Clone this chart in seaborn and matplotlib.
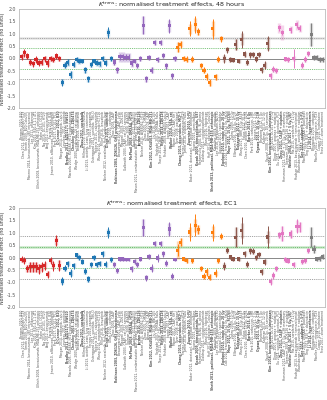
import numpy as np
import pandas as pd
import seaborn as sns
import matplotlib.pyplot as plt

# ---- data ----
group_names = ["anti-VEGF", "VEGFR TKI", "VDA", "chemo", "radiation", "combination", "other"]
group_sizes = [14, 18, 22, 16, 16, 14, 5]
group_colors = ["#d62728", "#1f77b4", "#9467bd", "#ff7f0e", "#8c564b", "#e377c2", "#7f7f7f"]

labels = [
    "Bergers 2010, B20", "Chen 2012, bevacizumab HT29", "Smith 2009, B20 Colo205",
    "Moreno 2014, bevacizumab, U87 intracranial", "Lee 2011, aflibercept", "Kim 2015, B20-4.1.1 4T1",
    "Ullrich 2008, bevacizumab, MDA-MB-231 orthotopic", "Hahn 2013, DC101", "Ng 2016, DC101, HT29",
    "Yang 2012, bevacizumab", "Ferretti 2011, B20", "Jensen 2010, aflibercept, Calu-6 xenograft",
    "Park 2017, DC101, PC3", "O'Connor 2012, B20",
    "Morgan 2014, cediranib, Calu-6", "Loveless 2012, sunitinib", "Bradley 2011, AZD2171 SW620",
    "Marzola 2005, SU6668, HT29 subcutaneous", "Checkley 2003, ZD6474", "Wedge 2005, cediranib, C6 rat glioma",
    "Bradley 2008, vandetanib", "Zhou 2012, sorafenib", "Hillman 2009, sunitinib RENCA",
    "Li 2013, axitinib, Lewis lung carcinoma", "Ferrara 2010, pazopanib", "Ostergaard 2011, sunitinib, 786-O",
    "Roberts 2015, cabozantinib", "Wang 2014, regorafenib HCT116", "Miller 2016, lenvatinib",
    "Nielsen 2012, sorafenib, Huh7 orthotopic liver", "Dings 2013, sunitinib", "Ullah 2010, cediranib",
    "Zhao 2008, CA4P", "Robinson 2003, ZD6126, GH3 prolactinoma",
    "Beauregard 2001, CA4P, LoVo", "Maxwell 2009, ZD6126", "Galbraith 2003, CA4P, rat P22 sarcoma",
    "Salmon 2006, ASA404", "McPhail 2008, DMXAA, HT29", "Bradley 2012, OXi4503",
    "Mason 2011, combretastatin A4P, breast 13762NF rat",
    "Jordan 2010, ZD6126", "Nielsen 2015, AVE8062, HT29", "Zhao 2005, DMXAA",
    "Ahmed 2008, CA4P", "Kim 2012, OXi4503, MDA-MB-231", "Liu 2016, BNC105",
    "Seshadri 2007, DMXAA, FaDu", "Thorpe 2013, CA4P, C3H mammary", "Reyes 2014, ZD6126",
    "Fishbein 2009, ASA404 Calu-6", "Joseph 2011, CA4P", "Walker 2010, VEA, rat",
    "Moore 2012, CA4P, KHT",
    "Tozer 2008, paclitaxel", "Chang 2013, doxorubicin, MCF-7",
    "Ferrier 2007, irinotecan HT29", "Jarrett 2018, cisplatin, FaDu", "Fournier 2010, 5-FU",
    "Baker 2012, docetaxel, PC3 prostate xenograft", "Huang 2015, gemcitabine",
    "Kozak 2009, temozolomide, U87", "Rehemtulla 2004, BCNU, 9L glioma",
    "Daldrup 2011, cyclophosphamide", "Wang 2016, topotecan", "Hoff 2014, oxaliplatin, Colo205",
    "Sheth 2013, paclitaxel, MDA-MB-435 orthotopic", "Kiessling 2009, etoposide",
    "Lee 2018, carboplatin, A2780", "Gaustad 2012, capecitabine",
    "Egeland 2010, single dose 20 Gy", "Cao 2014, fractionated 5x2 Gy, FaDu",
    "Mayr 2011, 15 Gy, SCCVII", "Zahra 2009, 10 Gy", "Ellingsen 2016, 3x4 Gy, HT29",
    "Kobayashi 2012, 15 Gy", "Wang 2017, SBRT 8 Gy, A549", "Fokas 2012, 20 Gy",
    "Chen 2010, proton 10 Gy, U251", "Barker 2014, 6 Gy", "Park 2015, carbon ion, LM8",
    "Janssen 2011, 2 Gy", "Ogawa 2013, 10 Gy, C3H", "Brurberg 2012, 5 Gy",
    "Kallman 2010, 12 Gy", "Vaupel 2008, 20 Gy, DS sarcoma",
    "Kim 2016, bevacizumab + irinotecan", "Jain 2012, DC101 + 10 Gy",
    "Dings 2007, anginex + radiation", "Xu 2014, sunitinib + docetaxel, PC3",
    "Zhou 2011, CA4P + cisplatin", "Horsman 2012, CA4P + 15 Gy, C3H mammary",
    "Siemann 2009, ZD6126 + cisplatin", "Winkler 2004, DC101 + 5 Gy, U87",
    "Ma 2015, sorafenib + 12 Gy", "Hudson 2013, bevacizumab + temozolomide",
    "Wachsberger 2010, sunitinib + radiation", "Gee 2011, cediranib + 5-FU",
    "Moeller 2016, DMXAA + paclitaxel", "Tong 2012, B20 + doxorubicin",
    "Li 2014, hyperthermia", "Bhujwalla 2009, carbogen",
    "Moeller 2012, nitroglycerin, HT29", "Cooper 2010, hydralazine", "Frost 2017, sham treatment",
]
bold_idx = [13, 16, 18, 21, 30, 33, 38, 41, 45, 49, 52, 55, 58, 61, 66, 70, 72, 75, 79, 82, 86, 90, 93, 97, 100]

# panel 1: 48 hours
eff_48h = [
    0.07, 0.23, 0.10, -0.15, -0.22, -0.04, -0.18, -0.15, -0.01, -0.18, 0.00, -0.04, 0.10, 0.00,
    -0.96, -0.28, -0.16, -0.64, -0.24, -0.04, -0.10, -0.10, -0.46, -0.82, -0.26, -0.10, -0.18, -0.22, 0.00, -0.18, 1.04, 0.00,
    -0.14, -0.45, 0.07, 0.07, 0.05, 0.05, -0.18, -0.10, -0.27, 0.00, 1.35, -0.82, 0.05, -0.47, 0.65, -0.04, 0.65, 0.12, -0.30, 1.32, -0.70, 0.00,
    0.45, 0.57, 0.00, -0.03, 1.20, -0.03, 1.37, 1.08, -0.30, -0.48, -0.73, -0.98, 1.20, -0.73, -0.03, 0.80,
    0.00, 0.35, -0.05, -0.06, 0.57, -0.10, 0.78, 0.18, -0.15, 0.16, 0.15, -0.02, 0.17, -0.45, -0.27, 0.60,
    -0.70, -0.43, -0.48, 1.25, 1.05, -0.02, -0.04, 1.17, 0.00, 1.37, 1.22, -0.28, -0.03, 0.20,
    0.97, 0.03, 0.05, -0.03, -0.03,
]
ci_48h = [
    0.13, 0.15, 0.12, 0.12, 0.12, 0.15, 0.12, 0.12, 0.12, 0.15, 0.12, 0.12, 0.12, 0.12,
    0.15, 0.12, 0.12, 0.15, 0.12, 0.10, 0.10, 0.10, 0.12, 0.12, 0.10, 0.10, 0.10, 0.10, 0.10, 0.12, 0.22, 0.12,
    0.12, 0.12, 0.12, 0.12, 0.12, 0.12, 0.12, 0.10, 0.10, 0.10, 0.35, 0.12, 0.10, 0.12, 0.10, 0.10, 0.10, 0.10, 0.12, 0.28, 0.12, 0.10,
    0.20, 0.15, 0.10, 0.12, 0.30, 0.12, 0.35, 0.15, 0.10, 0.12, 0.15, 0.15, 0.40, 0.12, 0.12, 0.12,
    0.20, 0.12, 0.10, 0.10, 0.22, 0.10, 0.35, 0.12, 0.12, 0.12, 0.10, 0.12, 0.10, 0.12, 0.15, 0.30,
    0.12, 0.12, 0.10, 0.12, 0.12, 0.10, 0.10, 0.12, 0.40, 0.12, 0.12, 0.12, 0.12, 0.10,
    0.45, 0.10, 0.10, 0.10, 0.10,
]
spread_48h = [
    0.10, 0.12, 0.10, 0.12, 0.10, 0.12, 0.10, 0.12, 0.10, 0.12, 0.10, 0.10, 0.10, 0.10,
    0.12, 0.12, 0.15, 0.15, 0.10, 0.10, 0.12, 0.10, 0.12, 0.12, 0.10, 0.10, 0.12, 0.12, 0.10, 0.10, 0.15, 0.10,
    0.12, 0.12, 0.20, 0.20, 0.18, 0.18, 0.15, 0.10, 0.10, 0.10, 0.35, 0.12, 0.10, 0.12, 0.10, 0.10, 0.10, 0.10, 0.12, 0.25, 0.10, 0.10,
    0.20, 0.12, 0.10, 0.10, 0.20, 0.10, 0.25, 0.12, 0.10, 0.10, 0.12, 0.12, 0.30, 0.12, 0.10, 0.10,
    0.15, 0.10, 0.10, 0.10, 0.22, 0.10, 0.25, 0.10, 0.10, 0.10, 0.10, 0.10, 0.10, 0.10, 0.12, 0.25,
    0.10, 0.10, 0.10, 0.20, 0.30, 0.10, 0.10, 0.15, 0.10, 0.20, 0.15, 0.10, 0.10, 0.10,
    0.45, 0.10, 0.10, 0.10, 0.10,
]

# panel 2: EC1
eff_ec1 = [
    -0.07, -0.12, -0.45, -0.38, -0.38, -0.38, -0.45, -0.38, -0.33, -0.68, -0.12, -0.33, 0.67, -0.32,
    -0.95, -0.43, -0.25, -0.63, -0.33, 0.10, 0.00, -0.18, -0.55, -0.87, -0.30, 0.00, -0.30, -0.25, 0.15, -0.27, 1.00, -0.07,
    -0.27, -0.53, -0.06, -0.06, -0.08, -0.08, -0.45, -0.16, -0.28, -0.06, 1.20, -0.82, 0.05, -0.43, 0.55, -0.02, 0.57, 0.15, -0.23, 1.15, -0.76, -0.08,
    0.30, 0.62, -0.06, -0.12, 1.03, -0.13, 1.30, 1.13, -0.43, -0.76, -0.58, -0.80, 1.02, -0.63, -0.12, 0.85,
    -0.35, 0.30, 0.02, -0.06, 0.82, -0.06, 1.10, 0.15, -0.27, 0.27, 0.25, -0.01, 0.13, -0.57, -0.18, 0.83,
    -0.97, -0.72, -0.43, 0.92, 0.97, -0.08, -0.14, 0.95, -0.27, 1.27, 1.25, -0.17, -0.12, 0.30,
    0.82, 0.34, -0.06, -0.05, 0.05,
]
ci_ec1 = [
    0.12, 0.15, 0.15, 0.20, 0.20, 0.20, 0.20, 0.20, 0.18, 0.15, 0.15, 0.20, 0.22, 0.22,
    0.15, 0.12, 0.12, 0.15, 0.12, 0.10, 0.10, 0.10, 0.12, 0.12, 0.10, 0.10, 0.10, 0.10, 0.12, 0.12, 0.22, 0.10,
    0.10, 0.10, 0.08, 0.08, 0.08, 0.08, 0.12, 0.10, 0.10, 0.10, 0.35, 0.12, 0.10, 0.15, 0.10, 0.15, 0.10, 0.12, 0.12, 0.28, 0.12, 0.08,
    0.25, 0.15, 0.10, 0.10, 0.35, 0.10, 0.45, 0.20, 0.10, 0.12, 0.15, 0.12, 0.35, 0.15, 0.10, 0.12,
    0.15, 0.12, 0.10, 0.10, 0.40, 0.10, 0.55, 0.12, 0.12, 0.12, 0.12, 0.10, 0.10, 0.12, 0.12, 0.45,
    0.15, 0.15, 0.10, 0.12, 0.30, 0.10, 0.10, 0.15, 0.10, 0.30, 0.20, 0.10, 0.10, 0.10,
    0.40, 0.15, 0.10, 0.10, 0.10,
]
spread_ec1 = [
    0.10, 0.12, 0.15, 0.20, 0.20, 0.20, 0.18, 0.15, 0.15, 0.12, 0.12, 0.15, 0.15, 0.20,
    0.12, 0.10, 0.10, 0.12, 0.10, 0.10, 0.10, 0.10, 0.12, 0.12, 0.10, 0.10, 0.10, 0.10, 0.10, 0.10, 0.15, 0.10,
    0.10, 0.10, 0.08, 0.08, 0.08, 0.08, 0.10, 0.10, 0.10, 0.10, 0.35, 0.10, 0.10, 0.10, 0.10, 0.10, 0.10, 0.10, 0.10, 0.25, 0.10, 0.08,
    0.35, 0.15, 0.10, 0.10, 0.20, 0.10, 0.25, 0.20, 0.10, 0.10, 0.12, 0.12, 0.25, 0.10, 0.10, 0.10,
    0.12, 0.10, 0.10, 0.10, 0.40, 0.10, 0.30, 0.10, 0.10, 0.10, 0.10, 0.10, 0.10, 0.10, 0.10, 0.25,
    0.10, 0.10, 0.10, 0.12, 0.30, 0.10, 0.10, 0.15, 0.10, 0.25, 0.20, 0.10, 0.10, 0.10,
    0.40, 0.15, 0.10, 0.10, 0.10,
]

titles = [r"$K^{\mathrm{trans}}$: normalised treatment effects, 48 hours",
          r"$K^{\mathrm{trans}}$: normalised treatment effects, EC1"]
green_lims = [0.41, 0.44]
gray_lims = [0.82, 0.88]

sns.set_style("white")
plt.rcParams['font.family'] = ['DejaVu Sans']

groups = np.repeat(group_names, group_sizes)
fig = plt.figure(figsize=(3.27, 4.0), dpi=100)
ax_pos = [[0.058, 0.73, 0.936, 0.2475], [0.058, 0.2325, 0.936, 0.2475]]

panels = [(eff_48h, ci_48h, spread_48h), (eff_ec1, ci_ec1, spread_ec1)]
for k, (eff, ci, spread) in enumerate(panels):
    ax = fig.add_axes(ax_pos[k])
    df = pd.DataFrame({"pos": np.arange(len(eff)), "effect": eff, "ci": ci,
                       "spread": spread, "group": groups})
    colors = df["group"].map(dict(zip(group_names, group_colors)))

    # reference lines
    ax.axhline(0, color="#888888", lw=0.7, zorder=1)
    for s in (1, -1):
        ax.axhline(s * green_lims[k], color="#2ca02c", lw=0.45, ls=(0, (1.5, 1.5)), zorder=1)
        ax.axhline(s * gray_lims[k], color="#666666", lw=0.45, ls=(0, (1.5, 1.5)), zorder=1)
    band = gray_lims[k] if k == 0 else green_lims[k]
    ax.axhline(band, color="#999999" if k == 0 else "#2ca02c", lw=2.2, alpha=0.2, zorder=1)

    # light wide bars and thin error lines
    ax.vlines(df["pos"], df["effect"] - df["spread"], df["effect"] + df["spread"],
              colors=colors, lw=2.4, alpha=0.3, zorder=2)
    ax.vlines(df["pos"], df["effect"] - df["ci"], df["effect"] + df["ci"],
              colors=colors, lw=0.7, zorder=3)
    sns.scatterplot(data=df, x="pos", y="effect", hue="group", palette=group_colors,
                    marker="s", s=5, linewidth=0, legend=False, ax=ax, zorder=4)

    ax.set_xlim(-0.9, len(eff) - 0.2)
    ax.set_ylim(-2.0, 2.0)
    ax.set_yticks(np.arange(-2.0, 2.01, 0.5))
    ax.set_yticklabels([f"{v:.1f}" for v in np.arange(-2.0, 2.01, 0.5)], fontsize=3.4)
    ax.set_xticks(df["pos"])
    ax.set_xticklabels(labels, rotation=90, fontsize=2.2)
    for i, t in enumerate(ax.get_xticklabels()):
        if i in bold_idx:
            t.set_fontweight("bold")
            t.set_color("#222222")
        else:
            t.set_color("#666666")
    ax.tick_params(axis="both", length=1.2, width=0.4, pad=0.8, colors="#555555")
    ax.set_xlabel("")
    ax.set_ylabel("Normalised treatment effect (no units)", fontsize=3.4, labelpad=1.5,
                  color="#333333")
    ax.set_title(titles[k], fontsize=4.6, pad=1.5, color="#222222")
    for sp in ax.spines.values():
        sp.set_color("#bbbbbb")
        sp.set_linewidth(0.6)

fig.savefig("out.png", dpi=100)
